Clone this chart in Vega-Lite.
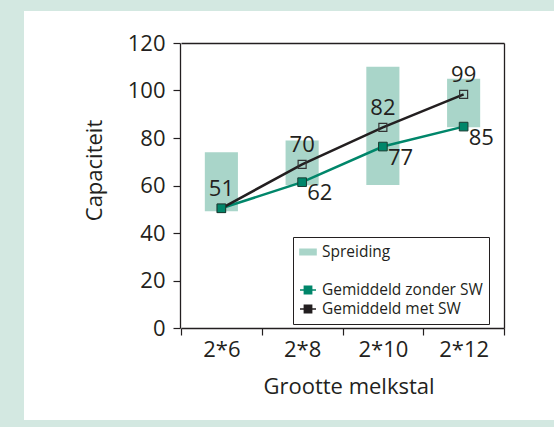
{
  "$schema": "https://vega.github.io/schema/vega-lite/v6.json",
  "width": 530,
  "height": 409,
  "autosize": {"type": "none"},
  "padding": {"left": 24, "top": 11, "right": 0, "bottom": 7},
  "background": "#d3e8e1",
  "config": {"font": "Open Sans", "view": {"fill": "white", "stroke": null}},
  "datasets": {
    "spread": [
      {"groep": "2*6", "laag": 49.2, "hoog": 74},
      {"groep": "2*8", "laag": 60.1, "hoog": 79},
      {"groep": "2*10", "laag": 60.2, "hoog": 110},
      {"groep": "2*12", "laag": 84.5, "hoog": 105}
    ],
    "gem": [
      {"groep": "2*6", "reeks": "Gemiddeld zonder SW", "capaciteit": 50.4, "label": ""},
      {"groep": "2*8", "reeks": "Gemiddeld zonder SW", "capaciteit": 61.4, "label": "62"},
      {"groep": "2*10", "reeks": "Gemiddeld zonder SW", "capaciteit": 76.4, "label": "77"},
      {"groep": "2*12", "reeks": "Gemiddeld zonder SW", "capaciteit": 84.8, "label": "85"},
      {"groep": "2*6", "reeks": "Gemiddeld met SW", "capaciteit": 50.4, "label": "51"},
      {"groep": "2*8", "reeks": "Gemiddeld met SW", "capaciteit": 68.9, "label": "70"},
      {"groep": "2*10", "reeks": "Gemiddeld met SW", "capaciteit": 84.5, "label": "82"},
      {"groep": "2*12", "reeks": "Gemiddeld met SW", "capaciteit": 98.4, "label": "99"}
    ]
  },
  "layer": [
    {
      "data": {"name": "spread"},
      "mark": {"type": "bar", "width": {"band": 0.41}},
      "encoding": {
        "x": {
          "field": "groep", "type": "nominal", "sort": ["2*6", "2*8", "2*10", "2*12"],
          "scale": {"type": "band", "range": [157, 480], "paddingInner": 0, "paddingOuter": 0},
          "axis": {
            "orient": "bottom", "offset": -92, "title": "Grootte melkstal",
            "titleFontSize": 22, "titleFontWeight": "normal", "titleColor": "#231f20",
            "titlePadding": 16, "titleX": 324.5,
            "labelFontSize": 22, "labelColor": "#231f20", "labelPadding": 4, "labelAngle": 0,
            "tickBand": "extent", "tickSize": 7, "tickColor": "#231f20", "tickWidth": 1.2,
            "domainColor": "#231f20", "domainWidth": 1.3, "grid": false
          }
        },
        "y": {
          "field": "laag", "type": "quantitative",
          "scale": {"domain": [0, 120], "range": [317, 32], "nice": false, "zero": true},
          "axis": {
            "orient": "left", "offset": -156, "values": [0, 20, 40, 60, 80, 100, 120],
            "title": "Capaciteit", "titleFontSize": 22, "titleFontWeight": "normal", "titleColor": "#231f20",
            "titleX": -79, "titleY": 159, "titleBaseline": "alphabetic", "titleAlign": "center", "titleAngle": -90,
            "labelFontSize": 22, "labelColor": "#231f20", "labelPadding": 8,
            "tickSize": 7, "tickColor": "#231f20", "tickWidth": 1.2,
            "domainColor": "#231f20", "domainWidth": 1.3, "grid": false
          }
        },
        "y2": {"field": "hoog"},
        "color": {
          "datum": "Spreiding",
          "scale": {
            "domain": ["Spreiding", " ", "Gemiddeld zonder SW", "Gemiddeld met SW"],
            "range": ["#a9d5c9", "#ffffff", "#00866a", "#231f20"]
          },
          "legend": {
            "orient": "none", "legendX": 269, "legendY": 226, "title": null,
            "strokeColor": "#231f20", "fillColor": "white", "padding": 6,
            "labelFontSize": 15.5, "labelColor": "#231f20", "labelOffset": 5, "labelLimit": 300,
            "symbolSize": 240, "rowPadding": 1,
            "encode": {
              "symbols": {
                "update": {
                  "shape": {"signal": "datum.value === 'Spreiding' ? 'M-1,-0.35H1V0.35H-1Z' : 'M-1,0H1M-0.45,-0.45H0.45V0.45H-0.45Z'"},
                  "fill": {"signal": "datum.value === 'Spreiding' ? '#a9d5c9' : datum.value === 'Gemiddeld zonder SW' ? '#00866a' : 'transparent'"},
                  "stroke": {"signal": "datum.value === 'Spreiding' ? 'transparent' : datum.value === 'Gemiddeld zonder SW' ? '#00866a' : '#231f20'"},
                  "strokeWidth": {"value": 1.6},
                  "opacity": {"signal": "datum.value === ' ' ? 0 : 1"},
                  "size": {"value": 256}
                }
              }
            }
          }
        }
      }
    },
    {
      "data": {"name": "gem"},
      "mark": {"type": "line", "strokeWidth": 2.5},
      "encoding": {
        "x": {
          "field": "groep", "type": "nominal", "sort": ["2*6", "2*8", "2*10", "2*12"],
          "axis": {"orient": "top", "offset": -32, "labels": false, "ticks": false, "title": null, "grid": false, "domainColor": "#231f20", "domainWidth": 1.3}
        },
        "y": {
          "field": "capaciteit", "type": "quantitative",
          "axis": {"orient": "right", "offset": -50, "labels": false, "ticks": false, "title": null, "grid": false, "domainColor": "#231f20", "domainWidth": 1.3}
        },
        "color": {
          "field": "reeks", "type": "nominal",
          "scale": {
            "domain": ["Spreiding", " ", "Gemiddeld zonder SW", "Gemiddeld met SW"],
            "range": ["#a9d5c9", "#ffffff", "#00866a", "#231f20"]
          },
          "legend": {
            "orient": "none", "legendX": 269, "legendY": 226, "title": null,
            "strokeColor": "#231f20", "fillColor": "white", "padding": 6,
            "labelFontSize": 15.5, "labelColor": "#231f20", "labelOffset": 5, "labelLimit": 300,
            "symbolSize": 240, "rowPadding": 1,
            "encode": {
              "symbols": {
                "update": {
                  "shape": {"signal": "datum.value === 'Spreiding' ? 'M-1,-0.35H1V0.35H-1Z' : 'M-1,0H1M-0.45,-0.45H0.45V0.45H-0.45Z'"},
                  "fill": {"signal": "datum.value === 'Spreiding' ? '#a9d5c9' : datum.value === 'Gemiddeld zonder SW' ? '#00866a' : 'transparent'"},
                  "stroke": {"signal": "datum.value === 'Spreiding' ? 'transparent' : datum.value === 'Gemiddeld zonder SW' ? '#00866a' : '#231f20'"},
                  "strokeWidth": {"value": 1.6},
                  "opacity": {"signal": "datum.value === ' ' ? 0 : 1"},
                  "size": {"value": 256}
                }
              }
            }
          }
        }
      }
    },
    {
      "data": {"name": "gem"},
      "transform": [{"filter": "datum.reeks === 'Gemiddeld met SW'"}],
      "mark": {"type": "point", "shape": "square", "size": 64, "filled": false, "stroke": "#333333", "strokeWidth": 1.2, "opacity": 1},
      "encoding": {
        "x": {"field": "groep", "type": "nominal", "sort": ["2*6", "2*8", "2*10", "2*12"], "axis": null},
        "y": {"field": "capaciteit", "type": "quantitative", "axis": null}
      }
    },
    {
      "data": {"name": "gem"},
      "transform": [{"filter": "datum.reeks === 'Gemiddeld zonder SW'"}],
      "mark": {"type": "point", "shape": "square", "size": 75, "filled": true, "fill": "#00866a", "stroke": "#1b3d33", "strokeWidth": 1, "opacity": 1},
      "encoding": {
        "x": {"field": "groep", "type": "nominal", "sort": ["2*6", "2*8", "2*10", "2*12"], "axis": null},
        "y": {"field": "capaciteit", "type": "quantitative", "axis": null}
      }
    },
    {
      "data": {"name": "gem"},
      "transform": [{"filter": "datum.reeks === 'Gemiddeld met SW'"}],
      "mark": {"type": "text", "fontSize": 22, "dy": -12, "baseline": "alphabetic", "align": "center", "color": "#231f20"},
      "encoding": {
        "x": {"field": "groep", "type": "nominal", "sort": ["2*6", "2*8", "2*10", "2*12"], "axis": null},
        "y": {"field": "capaciteit", "type": "quantitative", "axis": null},
        "text": {"field": "label"}
      }
    },
    {
      "data": {"name": "gem"},
      "transform": [{"filter": "datum.reeks === 'Gemiddeld zonder SW'"}],
      "mark": {"type": "text", "fontSize": 22, "dx": 5, "dy": 18, "baseline": "alphabetic", "align": "left", "color": "#231f20"},
      "encoding": {
        "x": {"field": "groep", "type": "nominal", "sort": ["2*6", "2*8", "2*10", "2*12"], "axis": null},
        "y": {"field": "capaciteit", "type": "quantitative", "axis": null},
        "text": {"field": "label"}
      }
    }
  ],
  "resolve": {"axis": {"x": "independent", "y": "independent"}}
}
